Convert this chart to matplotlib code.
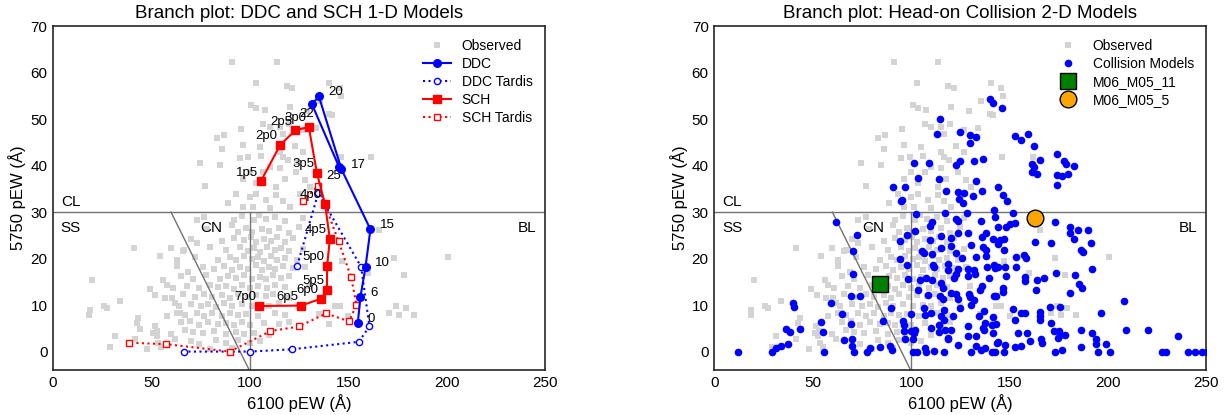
import matplotlib.pyplot as plt

plt.rcParams['font.family'] = ['Liberation Sans', 'DejaVu Sans']

# observed SNe Ia (pEW 6100, pEW 5750)
obs_6100 = [91.2, 113.7, 103.0, 118.9, 121.6, 140.5, 145.6, 146.5, 100.7, 103.4, 107.6, 120.3,
            129.2, 135.5, 140.2, 141.6, 106.8, 110.1, 115.2, 119.9, 116.9, 95.3, 127.0, 133.8,
            83.1, 86.8, 96.6, 86.0, 122.8, 127.0, 105.1, 115.2, 74.7, 84.8, 94.9, 99.3,
            105.9, 116.9, 119.4, 124.2, 110.1, 100.0, 106.8, 115.2, 123.6, 161.8, 146.1, 77.2,
            96.6, 117.7, 127.9, 103.4, 113.5, 130.4,
            89.0, 100.0, 103.4, 108.4, 113.5, 116.9, 110.1, 101.7, 120.3, 96.6, 125.3, 93.2,
            77.0, 92.0, 96.0, 102.0, 104.5, 108.0, 113.0, 118.0, 127.0, 165.5,
            78.5, 94.0, 98.0, 101.0, 106.0, 110.0, 115.0, 120.0, 125.0, 91.0,
            70.0, 86.0, 92.0, 97.0, 100.5, 103.0, 107.0, 111.0, 114.0, 118.0, 122.0,
            60.0, 66.0, 80.0, 88.0, 95.0, 99.0, 102.0, 105.0, 109.0, 113.0, 116.0, 120.0, 127.0,
            54.4, 63.0, 72.0, 84.0, 90.0, 93.0, 97.0, 101.0, 104.0, 107.0, 111.0, 114.0, 118.0,
            124.0, 173.1, 200.7, 147.0,
            62.8, 68.8, 76.0, 82.0, 87.0, 91.0, 95.0, 99.0, 103.0, 106.0, 110.0, 113.0, 117.0,
            122.0, 128.0,
            20.1, 56.1, 65.0, 71.0, 78.0, 85.0, 89.0, 93.0, 97.0, 101.0, 105.0, 108.0, 112.0,
            116.0, 120.0, 178.2, 160.0,
            49.3, 58.0, 61.0, 68.0, 74.0, 80.0, 84.0, 88.0, 92.0, 96.0, 100.0, 104.0, 109.0,
            113.0, 118.0, 130.0,
            52.0, 56.9, 60.3, 66.0, 72.0, 77.0, 81.0, 86.0, 90.0, 94.0, 99.0, 103.0, 108.0,
            112.0, 120.0,
            25.7, 27.4, 18.6, 34.1, 62.0, 64.0, 70.0, 75.0, 79.0, 83.0, 87.0, 91.0, 96.0, 101.0,
            106.0, 110.0, 115.0, 125.0, 145.6, 143.1,
            18.4, 57.8, 63.0, 67.0, 73.0, 77.0, 81.0, 86.0, 90.0, 94.0, 98.0, 104.0, 113.0,
            118.0, 135.0, 150.0, 170.9, 174.3, 176.0, 179.4, 183.6,
            42.6, 43.4, 51.9, 65.0, 69.6, 74.0, 79.0, 84.0, 88.0, 92.0, 96.0, 100.0, 107.0,
            115.0, 120.0, 140.0,
            44.3, 51.0, 53.0, 60.0, 67.1, 71.0, 76.0, 82.0, 88.0, 93.0, 97.0, 102.0, 110.0,
            29.1, 31.6, 41.7, 52.7, 53.5, 62.0, 70.0, 74.0, 83.0, 88.0, 94.0, 100.0, 105.0,
            48.0, 55.0, 80.0, 91.0,
            41.4, 61.0, 66.7, 73.0, 73.0, 64.5]
obs_5750 = [62.3, 62.3, 57.7, 57.2, 56.6, 57.7, 56.6, 54.9, 53.0, 52.5, 51.9, 52.6,
            51.8, 53.9, 51.1, 50.9, 48.9, 48.2, 48.2, 48.9, 46.9, 47.8, 47.6, 48.0,
            45.9, 46.6, 44.4, 43.5, 44.2, 43.0, 44.1, 43.0, 40.6, 40.1, 41.6, 41.8,
            42.1, 41.9, 41.2, 40.8, 39.8, 38.7, 38.7, 39.4, 38.7, 41.8, 41.9, 35.7,
            37.1, 37.1, 36.9, 36.2, 35.5, 35.5,
            31.9, 33.3, 34.0, 32.6, 33.7, 32.3, 30.8, 31.2, 31.2, 31.2, 34.0, 34.0,
            28.9, 28.4, 29.1, 28.2, 29.3, 28.6, 28.9, 28.0, 28.8, 26.2,
            26.3, 25.8, 26.6, 25.7, 26.4, 25.9, 26.5, 25.6, 26.8, 27.2,
            24.2, 23.7, 24.5, 23.9, 24.6, 23.5, 24.3, 23.8, 24.7, 23.6, 24.4,
            22.3, 21.7, 22.4, 21.8, 22.5, 21.6, 22.2, 21.5, 22.6, 21.9, 22.3, 21.7, 22.1,
            20.5, 19.7, 20.3, 19.8, 20.4, 19.6, 20.6, 19.9, 20.3, 19.5, 20.5, 19.8, 20.2,
            19.6, 20.2, 20.3, 19.5,
            18.4, 17.2, 18.3, 17.7, 18.5, 17.6, 18.2, 17.8, 18.6, 17.5, 18.3, 17.7, 18.4,
            17.9, 18.1,
            15.5, 15.5, 16.3, 15.7, 16.4, 15.6, 16.2, 15.8, 16.5, 15.6, 16.1, 15.7, 16.4,
            15.9, 16.3, 16.5, 16.9,
            13.5, 14.3, 13.7, 14.2, 13.6, 14.4, 13.8, 14.1, 13.5, 14.3, 13.7, 14.2, 13.6,
            14.4, 13.9, 14.0,
            12.2, 11.5, 11.5, 12.3, 11.7, 12.4, 11.8, 12.1, 11.6, 12.3, 11.7, 12.2, 11.9,
            12.4, 11.6,
            9.9, 9.4, 9.0, 10.8, 10.4, 9.8, 10.3, 9.7, 10.2, 9.6, 10.4, 9.9, 10.3, 9.7,
            10.1, 9.8, 10.4, 9.9, 9.7, 9.7,
            7.9, 7.6, 8.3, 7.8, 8.4, 7.7, 8.2, 7.6, 8.3, 7.9, 8.1, 7.7, 8.2,
            7.8, 8.0, 7.7, 8.3, 9.7, 7.9, 9.4, 7.8,
            6.2, 7.2, 5.4, 6.3, 6.5, 5.8, 6.4, 5.9, 6.2, 5.7, 6.3, 5.8, 6.1,
            5.9, 6.3, 6.0,
            4.9, 4.0, 4.4, 3.8, 4.7, 4.2, 3.9, 4.4, 3.7, 4.3, 3.8, 4.1, 3.6,
            0.9, 3.3, 2.6, 3.3, 1.9, 2.6, 2.2, 1.7, 2.4, 1.8, 2.5, 1.9, 2.3,
            0.6, 0.9, 0.5, 0.8,
            22.3, 13.7, 21.9, 23.3, 28.3, 8.3]

# 1-D models
ddc_labels = ['0', '6', '10', '15', '17', '20', '22', '25']
ddc_6100 = [154.9, 156.2, 158.8, 161.3, 146.6, 135.1, 131.6, 145.3]
ddc_5750 = [6.2, 11.7, 18.2, 26.3, 39.2, 54.9, 53.2, 39.8]
ddc_tardis_6100 = [124.1, 134.8, 156.6, 160.8, 155.4, 121.6, 100.0, 66.4]
ddc_tardis_5750 = [18.5, 34.1, 18.2, 5.4, 2.1, 0.5, 0.0, 0.0]

sch_labels = ['1p5', '2p0', '2p5', '3p0', '3p5', '4p0', '4p5', '5p0', '5p5', '6p0', '6p5', '7p0']
sch_6100 = [105.6, 115.4, 123.1, 130.0, 134.1, 138.2, 140.7, 139.3, 139.2, 136.3, 126.2, 104.9]
sch_5750 = [36.6, 44.4, 47.6, 48.3, 38.4, 31.8, 24.2, 18.5, 13.2, 11.4, 9.9, 9.8]
sch_tardis_6100 = [126.8, 134.8, 145.1, 151.5, 154.2, 150.5, 138.8, 125.0, 110.5, 89.8, 57.6, 38.7]
sch_tardis_5750 = [32.3, 35.7, 23.7, 16.0, 10.1, 6.5, 8.2, 5.4, 4.4, 0.0, 1.6, 1.9]

# 2-D collision models
col_6100 = [140.2, 141.6, 146.1, 114.5, 125.0, 113.0, 130.1, 132.9, 129.7, 152.9, 155.7, 159.3,
            162.5, 174.0, 177.7, 178.9, 182.8, 161.3, 165.5, 162.2, 161.3, 164.2, 174.3, 176.9,
            179.7, 174.0, 101.7, 109.1, 123.0, 125.0, 132.1, 136.5, 103.7, 114.2, 133.1, 90.9,
            97.1, 95.3, 94.6, 117.9, 123.8, 127.0, 135.8, 131.4, 124.5, 126.2, 144.3, 146.5,
            148.5, 142.2, 142.4, 152.0, 102.7, 117.4, 128.4, 123.0, 123.6, 110.6, 109.8, 135.5,
            144.3, 150.0, 148.3, 152.9, 173.1, 180.6, 184.8, 189.7, 180.6, 182.8, 191.2, 61.8,
            72.3, 98.0, 101.9, 94.4, 109.6, 115.2, 120.3, 123.6, 128.7, 136.0, 138.0, 141.4,
            144.9, 147.3, 144.3, 162.8, 170.9, 120.1, 115.2, 130.4, 136.3, 138.0, 147.3, 70.3,
            94.1, 98.0, 105.6, 106.4, 110.6, 122.8, 125.7, 132.9, 138.0, 153.5, 157.4, 158.6,
            186.5, 187.2, 111.0, 111.5, 118.9, 123.6, 118.9, 128.7, 132.1, 132.6, 138.5, 142.1,
            142.7, 144.3, 147.6, 153.4, 98.6, 104.7, 107.8, 110.5, 115.2, 116.2, 122.8, 122.0,
            128.7, 139.5, 148.3, 157.6, 157.9, 164.2, 167.6, 173.5, 183.1, 191.9, 70.3, 69.6,
            74.0, 59.1, 89.7, 103.5, 108.4, 114.5, 116.0, 120.3, 122.6, 124.0, 129.4, 129.9,
            132.1, 135.1, 135.8, 141.9, 143.2, 146.5, 146.8, 163.5, 180.6, 185.3, 186.7, 207.9,
            40.2, 40.5, 106.3, 116.6, 124.7, 130.4, 151.7, 165.5, 165.5, 170.6, 175.5, 196.6,
            64.7, 54.1, 55.4, 69.3, 85.8, 99.8, 95.8, 96.3, 106.8, 110.1, 115.2, 116.9,
            121.1, 134.6, 137.2, 137.7, 141.7, 140.9, 155.7, 157.9, 153.0, 165.5, 171.3, 36.3,
            38.7, 43.4, 65.7, 70.1, 96.6, 97.1, 100.0, 101.4, 102.0, 100.8, 110.1, 114.4,
            114.0, 117.4, 118.6, 118.9, 120.3, 128.7, 129.1, 133.1, 136.3, 137.2, 141.7, 143.1,
            143.9, 147.6, 154.1, 159.1, 160.5, 165.9, 172.6, 175.2, 174.7, 175.7, 178.0, 186.5,
            191.7, 194.1, 194.1, 209.0, 220.4, 235.6, 33.8, 37.2, 31.6, 70.1,
            11.8, 29.2, 55.6, 70.8, 77.4, 78.9, 84.3, 89.4, 90.2, 100.7, 103.0, 106.8,
            107.8, 111.8, 116.9, 123.6, 130.2, 132.9, 135.5, 137.5, 141.0, 142.4, 143.4, 147.0,
            152.7, 155.7, 166.4, 173.0, 176.4, 186.3, 194.9, 201.0, 199.0, 227.2, 229.4, 240.7,
            244.4, 248.0, 250.5]
col_5750 = [54.3, 53.4, 52.3, 50.1, 47.3, 46.7, 46.5, 46.1, 44.8, 46.4, 45.5, 46.9,
            44.2, 42.6, 41.0, 40.3, 39.9, 40.3, 41.2, 39.8, 38.7, 38.2, 37.9, 37.8,
            38.2, 35.8, 40.6, 40.5, 40.2, 41.0, 41.1, 41.5, 37.3, 37.1, 36.6, 35.4,
            35.5, 32.6, 32.3, 34.5, 34.4, 34.1, 34.6, 33.4, 32.9, 31.9, 35.3, 33.7,
            32.3, 30.5, 28.9, 29.8, 29.6, 29.8, 29.8, 28.6, 28.1, 27.9, 27.0, 28.0,
            26.9, 27.5, 26.8, 27.6, 27.9, 26.8, 26.2, 26.2, 25.5, 24.2, 23.3, 27.8,
            25.0, 25.1, 26.0, 23.8, 24.1, 24.9, 24.4, 25.5, 25.6, 24.7, 25.5, 24.3,
            24.0, 24.3, 23.2, 23.6, 23.4, 22.8, 22.2, 23.0, 22.6, 21.8, 21.9, 21.6,
            19.9, 18.7, 21.7, 21.2, 21.0, 21.2, 20.1, 20.3, 20.5, 20.3, 20.7, 20.2,
            21.9, 21.5, 18.7, 18.3, 18.8, 17.8, 17.5, 17.8, 17.6, 16.6, 18.2, 18.7,
            17.9, 18.2, 18.2, 18.2, 15.7, 15.3, 15.8, 15.4, 14.7, 13.7, 16.7, 15.8,
            16.2, 15.8, 16.3, 16.0, 15.1, 15.4, 15.9, 16.9, 16.5, 17.8, 16.7, 11.9,
            11.9, 10.4, 9.4, 13.3, 12.1, 11.9, 11.4, 12.6, 12.4, 11.3, 12.4, 11.7,
            11.2, 13.3, 14.0, 12.0, 12.0, 13.6, 12.9, 13.2, 12.6, 14.6, 13.7, 10.8,
            10.4, 9.6, 9.4, 8.9, 9.3, 10.1, 9.1, 8.6, 7.7, 9.5, 9.6, 8.3,
            8.0, 6.3, 4.2, 5.9, 6.5, 8.0, 6.5, 5.8, 7.9, 8.2, 7.7, 6.9,
            7.6, 7.6, 8.7, 6.2, 7.4, 5.8, 8.3, 8.3, 6.9, 6.7, 6.2, 4.9,
            4.2, 4.9, 2.4, 2.8, 4.4, 2.6, 4.4, 4.0, 4.7, 2.6, 5.1, 5.7,
            4.2, 4.7, 2.6, 2.9, 4.7, 5.6, 3.4, 3.3, 5.1, 4.7, 4.0, 5.9,
            2.0, 1.5, 4.0, 3.9, 2.2, 2.6, 4.4, 4.4, 2.9, 3.6, 3.6, 4.6,
            4.1, 2.6, 1.7, 4.6, 4.6, 3.3, 1.3, 1.7, 0.8, 1.3,
            0.0, 0.0, 0.0, 0.0, 0.0, 0.8, 1.0, 1.3, 0.4, 0.0, 0.0, 0.8,
            0.0, 0.2, 0.0, 1.5, 0.0, 1.1, 0.4, 0.8, 0.0, 0.0, 1.9, 0.0,
            1.0, 1.3, 1.9, 0.0, 0.4, 1.0, 0.0, 0.0, 1.7, 0.0, 0.0, 0.0,
            0.0, 0.0, 0.0]

m11_6100, m11_5750 = 84.3, 14.5
m5_6100, m5_5750 = 162.8, 28.7

ddc_offsets = [(7, 3), (7, 3), (7, 3), (7, 3), (7, 3), (7, 3), (-4, -7), (-4, -7)]


def setup(ax, title):
    ax.plot(obs_6100, obs_5750, 's', color='lightgray', markersize=5, mew=0, label='Observed', zorder=1)
    ax.axhline(30, color='0.45', lw=1, zorder=2)
    ax.plot([100, 100], [-4, 30], color='0.45', lw=1, zorder=2)
    ax.plot([60, 100], [30, -4.2], color='0.45', lw=1, zorder=2)
    ax.text(4, 31.3, 'CL', fontsize=11)
    ax.text(4, 25.8, 'SS', fontsize=11)
    ax.text(75, 25.8, 'CN', fontsize=11)
    ax.text(236, 25.8, 'BL', fontsize=11)
    ax.set_xlim(0, 250)
    ax.set_ylim(-4, 70)
    ax.set_xticks(range(0, 251, 50))
    ax.set_yticks(range(0, 71, 10))
    ax.tick_params(length=0, labelsize=11, pad=4)
    for s in ax.spines.values():
        s.set_color('0.15')
        s.set_linewidth(1.2)
    ax.set_xlabel('6100 pEW (Å)', fontsize=12, labelpad=3)
    ax.set_ylabel('5750 pEW (Å)', fontsize=12, labelpad=3)
    ax.set_title(title, fontsize=13.5)


fig, (ax1, ax2) = plt.subplots(1, 2, figsize=(12.31, 4.15), dpi=100)
fig.subplots_adjust(left=0.043, right=0.98, bottom=0.108, top=0.937, wspace=0.344)

setup(ax1, 'Branch plot: DDC and SCH 1-D Models')
ax1.plot(ddc_6100, ddc_5750, 'b-o', lw=1.5, markersize=5.5, label='DDC', zorder=4)
ax1.plot(ddc_tardis_6100, ddc_tardis_5750, 'b:o', lw=1.5, markersize=4.5, mfc='white', mew=1,
         label='DDC Tardis', zorder=3)
ax1.plot(sch_6100, sch_5750, 'r-s', lw=1.5, markersize=5.5, label='SCH', zorder=4)
ax1.plot(sch_tardis_6100, sch_tardis_5750, 'r:s', lw=1.5, markersize=4.5, mfc='white', mew=1,
         label='SCH Tardis', zorder=3)
for lab, x, y, off in zip(ddc_labels, ddc_6100, ddc_5750, ddc_offsets):
    ha = 'left' if off[0] > 0 else 'center'
    ax1.annotate(lab, (x, y), xytext=off, textcoords='offset points', ha=ha, va='center', fontsize=9.5)
for lab, x, y in zip(sch_labels, sch_6100, sch_5750):
    ax1.annotate(lab, (x, y), xytext=(-2, 2), textcoords='offset points', ha='right', va='bottom',
                 fontsize=9.5)
ax1.legend(loc='upper right', frameon=False, fontsize=10, labelspacing=0.3)

setup(ax2, 'Branch plot: Head-on Collision 2-D Models')
ax2.plot(col_6100, col_5750, 'o', color='b', markersize=5.5, mew=0, label='Collision Models', zorder=3)
ax2.plot(m11_6100, m11_5750, 's', color='green', mec='black', mew=1, markersize=11,
         label='M06_M05_11', zorder=5)
ax2.plot(m5_6100, m5_5750, 'o', color='orange', mec='black', mew=1, markersize=12,
         label='M06_M05_5', zorder=5)
ax2.legend(loc='upper right', frameon=False, fontsize=10, numpoints=1, labelspacing=0.3)

plt.savefig('out.png')
